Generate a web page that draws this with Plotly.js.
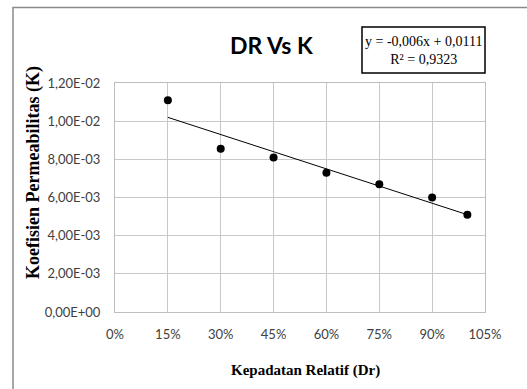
<!DOCTYPE html>
<html>
<head>
<meta charset="utf-8">
<script src="https://cdn.plot.ly/plotly-3.0.1.min.js"></script>
<style>html,body{margin:0;padding:0;background:#fff;}#chart{width:527px;height:389px;}</style>
</head>
<body>
<div id="chart"></div>
<script>
var dr = [0.15, 0.30, 0.45, 0.60, 0.75, 0.90, 1.00];
var k = [0.0111, 0.00855, 0.0081, 0.0073, 0.0067, 0.0060, 0.0051];
var trendSlope = -0.006;
var trendIntercept = 0.0111;
var trendX = [0.15, 1.00];
var xTickVals = [0, 0.15, 0.30, 0.45, 0.60, 0.75, 0.90, 1.05];
var xTickText = ['0%', '15%', '30%', '45%', '60%', '75%', '90%', '105%'];
var yTickVals = [0, 0.002, 0.004, 0.006, 0.008, 0.010, 0.012];
var yTickText = ['0,00E+00', '2,00E-03', '4,00E-03', '6,00E-03', '8,00E-03', '1,00E-02', '1,20E-02'];

var trendY = trendX.map(function (x) { return trendSlope * x + trendIntercept; });

var sans = 'Lato, Liberation Sans, sans-serif';
var serif = 'Liberation Serif, Times New Roman, serif';

var data = [
  {x: trendX, y: trendY, mode: 'lines', line: {color: '#000', width: 1}, hoverinfo: 'skip'},
  {x: dr, y: k, mode: 'markers', marker: {color: '#000', size: 8}}
];

var layout = {
  width: 527, height: 389,
  margin: {l: 115, r: 42, t: 83, b: 77},
  paper_bgcolor: '#fff', plot_bgcolor: '#fff',
  showlegend: false,
  xaxis: {
    range: [0, 1.05], tickvals: xTickVals, ticktext: xTickText,
    showgrid: true, gridcolor: '#c8c8c8', gridwidth: 1,
    showline: true, linecolor: '#bdbdbd', linewidth: 1, mirror: true,
    zeroline: false, ticks: '', ticklabelstandoff: 10,
    tickfont: {family: sans, size: 13, color: '#404040'}
  },
  yaxis: {
    range: [0, 0.012], tickvals: yTickVals, ticktext: yTickText,
    showgrid: true, gridcolor: '#c8c8c8', gridwidth: 1,
    showline: true, linecolor: '#bdbdbd', linewidth: 1, mirror: true,
    zeroline: false, ticks: '', ticklabelstandoff: 11,
    tickfont: {family: sans, size: 13, color: '#404040'}
  },
  annotations: [
    {text: '<b>DR Vs K</b>', xref: 'paper', yref: 'paper', x: (271 - 115) / 370, y: (312 - 45) / 229,
     xanchor: 'center', yanchor: 'middle', showarrow: false, font: {family: sans, size: 23, color: '#000'}},
    {text: 'y = -0,006x + 0,0111<br>R² = 0,9323', xref: 'paper', yref: 'paper',
     x: (423.5 - 115) / 370, y: (312 - 50) / 229, xanchor: 'center', yanchor: 'middle', showarrow: false,
     align: 'center', font: {family: serif, size: 14, color: '#000'}},
    {text: '<b>Kepadatan Relatif (Dr)</b>', xref: 'paper', yref: 'paper', x: (305 - 115) / 370, y: (312 - 370) / 229,
     xanchor: 'center', yanchor: 'middle', showarrow: false, font: {family: serif, size: 15, color: '#000'}},
    {text: '<b>Koefisien Permeabilitas (K)</b>', xref: 'paper', yref: 'paper', x: (33 - 115) / 370, y: (312 - 173) / 229,
     xanchor: 'center', yanchor: 'middle', showarrow: false, textangle: -90, font: {family: serif, size: 18, color: '#000'}}
  ],
  shapes: [
    {type: 'rect', xref: 'paper', yref: 'paper', x0: (362 - 115) / 370, x1: (485 - 115) / 370,
     y0: (312 - 73) / 229, y1: (312 - 27) / 229, line: {color: '#000', width: 1.5}},
    {type: 'path', xref: 'paper', yref: 'paper',
     path: 'M ' + ((13 - 115) / 370) + ' ' + ((312 - 400) / 229) + ' L ' + ((13 - 115) / 370) + ' ' + ((312 - 7.5) / 229) +
           ' L ' + ((540 - 115) / 370) + ' ' + ((312 - 7.5) / 229),
     line: {color: '#8a8a8a', width: 1.5}}
  ]
};

Plotly.newPlot('chart', data, layout, {displayModeBar: false, staticPlot: true});
</script>
</body>
</html>
